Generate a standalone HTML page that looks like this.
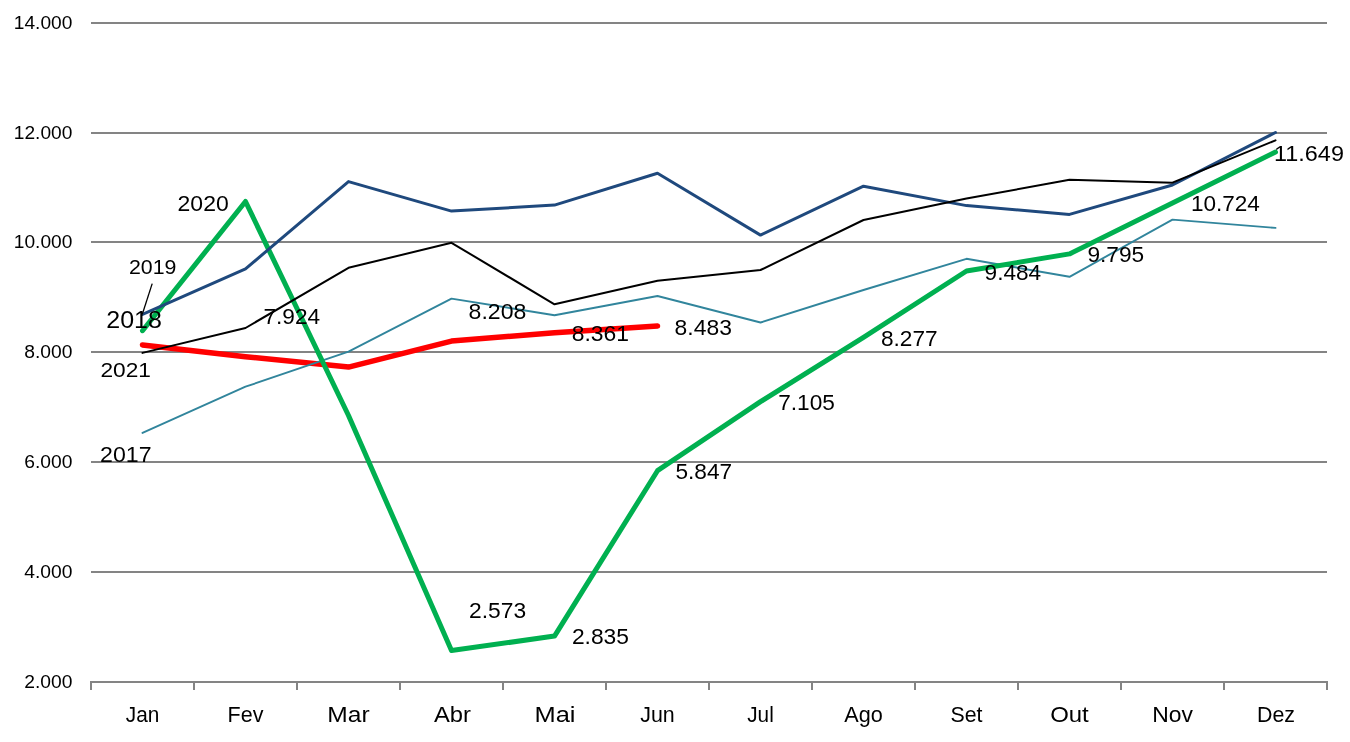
<!DOCTYPE html>
<html lang="pt">
<head>
<meta charset="utf-8">
<title>Gráfico mensal 2017–2021</title>
<style>
html,body{margin:0;padding:0;background:#fff;}
body{width:1350px;height:742px;overflow:hidden;}
svg{display:block;}
text{font-family:"Liberation Sans",sans-serif;fill:#000;}
.g{fill:#848484;shape-rendering:crispEdges;}
.s{fill:none;stroke-linejoin:round;stroke-linecap:round;}
</style>
</head>
<body>
<svg width="1350" height="742" viewBox="0 0 1350 742">
<rect x="0" y="0" width="1350" height="742" fill="#ffffff"/>
<g class="g">
<rect x="91" y="22" width="1236" height="2"/>
<rect x="91" y="132" width="1236" height="2"/>
<rect x="91" y="241" width="1236" height="2"/>
<rect x="91" y="351" width="1236" height="2"/>
<rect x="91" y="461" width="1236" height="2"/>
<rect x="91" y="571" width="1236" height="2"/>
<rect x="91" y="681" width="1237" height="2"/>
<rect x="90" y="681" width="2" height="9"/>
<rect x="193" y="681" width="2" height="9"/>
<rect x="296" y="681" width="2" height="9"/>
<rect x="399" y="681" width="2" height="9"/>
<rect x="502" y="681" width="2" height="9"/>
<rect x="605" y="681" width="2" height="9"/>
<rect x="708" y="681" width="2" height="9"/>
<rect x="811" y="681" width="2" height="9"/>
<rect x="914" y="681" width="2" height="9"/>
<rect x="1017" y="681" width="2" height="9"/>
<rect x="1120" y="681" width="2" height="9"/>
<rect x="1223" y="681" width="2" height="9"/>
<rect x="1326" y="681" width="2" height="9"/>
</g>
<polyline class="s" stroke="#ff0000" stroke-width="5.5" points="142.5,344.9 245.5,356.7 348.5,367.1 451.5,341.1 554.5,332.7 657.5,326.0"/>
<polyline class="s" stroke="#31859c" stroke-width="1.9" points="142.5,432.9 245.5,386.7 348.5,351.7 451.5,298.6 554.5,315.3 657.5,296.0 760.5,322.5 863.5,290.0 966.5,258.8 1069.5,276.8 1172.5,219.6 1275.5,227.9"/>
<polyline class="s" stroke="#00b050" stroke-width="5" points="142.5,330.7 245.5,201.5 348.5,415.5 451.5,650.5 554.5,636.1 657.5,470.7 760.5,401.7 863.5,337.3 966.5,271.0 1069.5,253.9 1172.5,202.9 1275.5,152.1"/>
<polyline class="s" stroke="#1f497d" stroke-width="3" points="142.5,314.4 245.5,268.9 348.5,181.6 451.5,211.1 554.5,205.1 657.5,173.3 760.5,235.1 863.5,186.2 966.5,205.6 1069.5,214.4 1172.5,185.0 1275.5,132.5"/>
<polyline class="s" stroke="#000000" stroke-width="2" points="142.5,352.9 245.5,328.0 348.5,267.8 451.5,242.8 554.5,304.3 657.5,280.7 760.5,270.0 863.5,220.0 966.5,198.5 1069.5,179.8 1172.5,182.7 1275.5,140.3"/>
<line x1="152.2" y1="283.6" x2="142.3" y2="314.2" stroke="#000" stroke-width="1.3"/>
<g font-size="18.3">
<text x="13.8" y="29.3" textLength="58.6" lengthAdjust="spacingAndGlyphs">14.000</text>
<text x="13.8" y="139.3" textLength="58.6" lengthAdjust="spacingAndGlyphs">12.000</text>
<text x="13.8" y="248.3" textLength="58.6" lengthAdjust="spacingAndGlyphs">10.000</text>
<text x="24.2" y="358.3" textLength="48.2" lengthAdjust="spacingAndGlyphs">8.000</text>
<text x="24.2" y="468.3" textLength="48.2" lengthAdjust="spacingAndGlyphs">6.000</text>
<text x="24.2" y="578.3" textLength="48.2" lengthAdjust="spacingAndGlyphs">4.000</text>
<text x="24.2" y="688.3" textLength="48.2" lengthAdjust="spacingAndGlyphs">2.000</text>
</g>
<g font-size="22" text-anchor="middle">
<text x="142.5" y="722.2" textLength="33.5" lengthAdjust="spacingAndGlyphs">Jan</text>
<text x="245.5" y="722.2" textLength="35.8" lengthAdjust="spacingAndGlyphs">Fev</text>
<text x="348.5" y="722.2" textLength="42.3" lengthAdjust="spacingAndGlyphs">Mar</text>
<text x="452.5" y="722.2" textLength="37.0" lengthAdjust="spacingAndGlyphs">Abr</text>
<text x="555.0" y="722.2" textLength="41.0" lengthAdjust="spacingAndGlyphs">Mai</text>
<text x="657.5" y="722.2" textLength="34.5" lengthAdjust="spacingAndGlyphs">Jun</text>
<text x="760.5" y="722.2" textLength="26.5" lengthAdjust="spacingAndGlyphs">Jul</text>
<text x="863.5" y="722.2" textLength="38.5" lengthAdjust="spacingAndGlyphs">Ago</text>
<text x="966.5" y="722.2" textLength="32.0" lengthAdjust="spacingAndGlyphs">Set</text>
<text x="1069.5" y="722.2" textLength="38.6" lengthAdjust="spacingAndGlyphs">Out</text>
<text x="1172.5" y="722.2" textLength="40.7" lengthAdjust="spacingAndGlyphs">Nov</text>
<text x="1276.0" y="722.2" textLength="38.0" lengthAdjust="spacingAndGlyphs">Dez</text>
</g>
<g>
<text x="177.6" y="211.4" font-size="21.5" textLength="51.1" lengthAdjust="spacingAndGlyphs">2020</text>
<text x="128.9" y="274.0" font-size="19.5" textLength="47.5" lengthAdjust="spacingAndGlyphs">2019</text>
<text x="106.3" y="328.2" font-size="23.0" textLength="55.6" lengthAdjust="spacingAndGlyphs">2018</text>
<text x="100.4" y="376.8" font-size="20.8" textLength="50.5" lengthAdjust="spacingAndGlyphs">2021</text>
<text x="100.1" y="461.8" font-size="21.8" textLength="51.5" lengthAdjust="spacingAndGlyphs">2017</text>
<text x="263.4" y="324.0" font-size="21.5" textLength="56.7" lengthAdjust="spacingAndGlyphs">7.924</text>
<text x="468.6" y="318.9" font-size="21.5" textLength="57.7" lengthAdjust="spacingAndGlyphs">8.208</text>
<text x="571.7" y="340.7" font-size="21.5" textLength="57.3" lengthAdjust="spacingAndGlyphs">8.361</text>
<text x="674.6" y="334.9" font-size="21.5" textLength="57.3" lengthAdjust="spacingAndGlyphs">8.483</text>
<text x="469.0" y="617.8" font-size="21.5" textLength="57.1" lengthAdjust="spacingAndGlyphs">2.573</text>
<text x="571.9" y="644.2" font-size="21.5" textLength="57.1" lengthAdjust="spacingAndGlyphs">2.835</text>
<text x="675.4" y="478.5" font-size="21.5" textLength="56.7" lengthAdjust="spacingAndGlyphs">5.847</text>
<text x="778.2" y="409.8" font-size="21.5" textLength="56.7" lengthAdjust="spacingAndGlyphs">7.105</text>
<text x="880.9" y="345.6" font-size="21.5" textLength="56.7" lengthAdjust="spacingAndGlyphs">8.277</text>
<text x="984.6" y="280.2" font-size="21.5" textLength="56.6" lengthAdjust="spacingAndGlyphs">9.484</text>
<text x="1087.4" y="261.8" font-size="21.5" textLength="56.8" lengthAdjust="spacingAndGlyphs">9.795</text>
<text x="1190.9" y="210.6" font-size="21.5" textLength="69.0" lengthAdjust="spacingAndGlyphs">10.724</text>
<text x="1274.1" y="161.2" font-size="21.5" textLength="69.8" lengthAdjust="spacingAndGlyphs">11.649</text>
</g>
</svg>
</body>
</html>
